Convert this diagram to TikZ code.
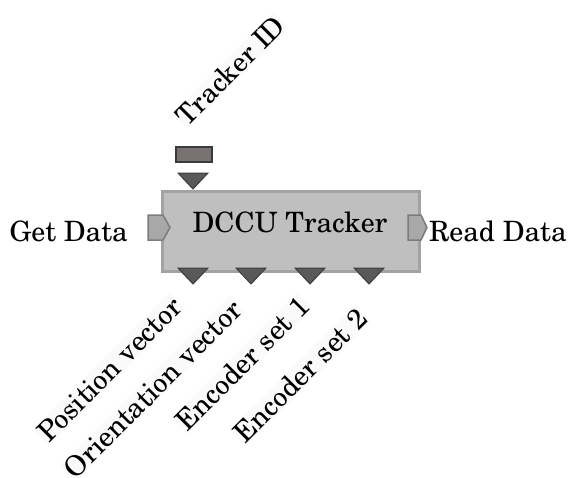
\documentclass[tikz,border=0pt]{standalone}
\usepackage[T1]{fontenc}
\usepackage{newcent}
\definecolor{boxfill}{HTML}{BFBFBF}
\definecolor{boxline}{HTML}{A2A2A2}
\definecolor{portfill}{HTML}{A8A8A8}
\definecolor{portline}{HTML}{7C7C7C}
\definecolor{trifill}{HTML}{595959}
\definecolor{triline}{HTML}{3D3D3D}
\definecolor{idfill}{HTML}{7A7272}
\definecolor{idline}{HTML}{3A3A3A}
\begin{document}
\begin{tikzpicture}[x=1pt,y=-1pt,
  lbl/.style={inner sep=0pt, font=\fontsize{28}{30}\selectfont},
  rlbl/.style={inner sep=1pt, rotate=45, fill=black!2, font=\fontsize{28}{30}\selectfont},
  blockbox/.style={draw=boxline, fill=boxfill, line width=3pt, inner sep=0pt},
  sideport/.style={draw=portline, fill=portfill, line width=1.5pt},
  triport/.style={draw=triline, fill=trifill, line width=1pt, line join=miter},
  idport/.style={draw=idline, fill=idfill, line width=1.5pt},
  outport/.pic={\path[triport] (-15,-8) -- (15,-8) -- (0,8) -- cycle;}
]
\useasboundingbox (0,0) rectangle (569,477);
% main block
\node[blockbox, minimum width=257pt, minimum height=80pt] (tracker) at (290.5,231) {};
\node[lbl, anchor=base] (title) at (290,232) {DCCU Tracker};
% side ports
\coordinate (inp) at (148,227.5);
\coordinate (outp) at (408,227.5);
\path[sideport] (inp) ++(0,-12.5) -- ++(15,0) -- ++(7,12.5) -- ++(-7,12.5) -- ++(-15,0) -- cycle;
\path[sideport] (outp) ++(0,-12.5) -- ++(13,0) -- ++(6,12.5) -- ++(-6,12.5) -- ++(-13,0) -- cycle;
\node[lbl, anchor=base east] (getdata) at (128,241) {Get Data};
\node[lbl, anchor=base west] (readdata) at (429,241) {Read Data};
% top input
\node[idport, minimum width=36pt, minimum height=15pt, inner sep=0pt] (idrect) at (194,154.5) {};
\pic at (193,181) {outport};
\node[rlbl, anchor=base west, font=\fontsize{27.5}{30}\selectfont] (trackerid) at (187,128) {Tracker ID};
% bottom outputs
\pic at (193,276) {outport};
\pic at (251,276) {outport};
\pic at (310,276) {outport};
\pic at (369,276) {outport};
\node[rlbl, anchor=base east] (posvec) at (185,308) {Position vector};
\node[rlbl, anchor=base east] (orivec) at (245,311) {Orientation vector};
\node[rlbl, anchor=base east] (enc1) at (312,308) {Encoder set 1};
\node[rlbl, anchor=base east] (enc2) at (370,320) {Encoder set 2};
\end{tikzpicture}
\end{document}
